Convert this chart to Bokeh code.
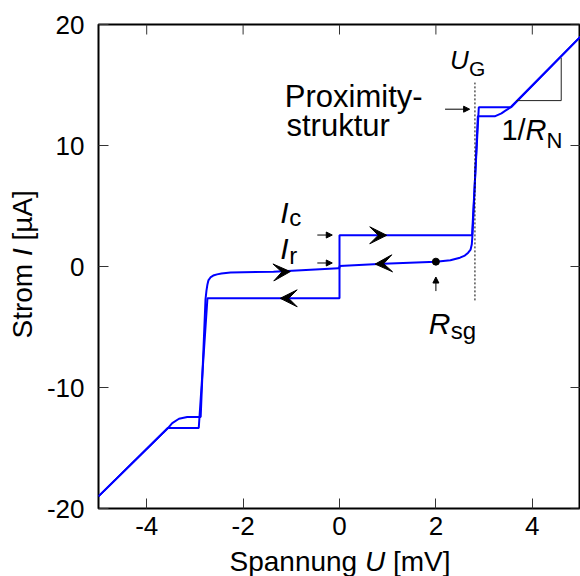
import math
from bokeh.plotting import figure
from bokeh.layouts import row, column
from bokeh.models import (FixedTicker, Label, Arrow, VeeHead, NormalHead, Range1d)
from bokeh.embed import file_html
from bokeh.resources import INLINE

# ---------------- data ----------------
x_ticks = [-4, -2, 0, 2, 4]
x_tick_labels = ["-4", "-2", "0", "2", "4"]
y_ticks = [-20, -10, 0, 10, 20]
y_tick_labels = ["-20", "-10", "0", "10", "20"]

# forward sweep (current increasing): U [mV], I [uA]
U_fwd = [-5.0, -3.56, -3.47, -3.33, -3.16, -2.88, -2.78, -2.76, -2.74, -2.72,
         -2.67, -2.62, -2.54, -2.45, -2.26, -1.37, -0.02, 0.0, 0.0, 2.75,
         2.89, 3.56, 5.0]
I_fwd = [-19.0, -13.35, -12.94, -12.58, -12.44, -12.44, -2.72, -2.0, -1.48, -1.15,
         -0.87, -0.75, -0.65, -0.58, -0.5, -0.43, -0.15, -0.12, 2.58, 2.58,
         13.16, 13.16, 19.0]

# return sweep (current decreasing)
U_ret = [5.0, 3.56, 3.53, 3.45, 3.36, 3.22, 2.87, 2.76, 2.745, 2.72, 2.67,
         2.6, 2.5, 2.3, 2.0, 0.91, 0.0, 0.0, -2.74, -2.92, -3.56, -5.0]
I_ret = [19.0, 13.2, 13.1, 12.9, 12.66, 12.41, 12.41, 2.67, 1.84, 1.4, 1.14,
         0.9, 0.73, 0.52, 0.40, 0.23, 0.04, -2.63, -2.63, -13.35, -13.35, -19.0]

# direction arrowheads on the trace
arrow_U = [0.98, 0.74, -1.23, -1.02]
arrow_I = [2.58, 0.20, -2.63, -0.42]
arrow_dir = [1, -1, -1, 1]
arrow_slope = [0.0, 0.18, 0.0, 0.2]

# gap voltage marker
U_G = 2.81
U_G_span = [-2.8, 15.2]

# subgap resistance point
Rsg_U = [2.0]
Rsg_I = [0.40]

# slope triangle (1/R_N)
tri_U = [3.67, 4.60, 4.60]
tri_I = [13.71, 13.71, 17.25]

# small pointer arrows
ptr_x0 = [2.19, -0.46, -0.46, 2.0]
ptr_y0 = [13.0, 2.6, 0.29, -2.03]
ptr_x1 = [2.70, -0.15, -0.15, 2.0]
ptr_y1 = [13.0, 2.6, 0.29, -0.87]

FONT = "Liberation Sans"
X_LABEL = ["Spannung", "U", "[mV]"]
Y_LABEL = ["Strom", "I", "[µA]"]
BASE_K = 0.36  # baseline correction (fraction of font size)

# ---------------- main figure ----------------
p = figure(width=540, height=544, x_range=Range1d(-5, 5), y_range=Range1d(-20, 20),
           output_backend="svg", toolbar_location=None,
           min_border_left=58, min_border_right=0, min_border_top=24,
           min_border_bottom=36)
p.outline_line_color = "black"
p.outline_line_width = 2
p.grid.visible = False
p.background_fill_color = "white"
p.border_fill_color = "white"


def style_axis(ax, ticks, labels, standoff):
    ax.ticker = FixedTicker(ticks=ticks)
    ax.major_label_overrides = {t: l for t, l in zip(ticks, labels)}
    ax.axis_line_color = None
    ax.major_tick_in = 10
    ax.major_tick_out = 0
    ax.major_tick_line_color = "#333333"
    ax.major_tick_line_width = 1
    ax.minor_tick_line_color = None
    ax.major_label_standoff = standoff
    ax.major_label_text_font = FONT
    ax.major_label_text_color = "black"
    ax.major_label_text_font_size = "26px"


style_axis(p.xaxis[0], x_ticks, x_tick_labels, 8)
style_axis(p.yaxis[0], y_ticks, y_tick_labels, 14)

# mirror ticks on top and right frame edges
p.ray(x=x_ticks, y=[p.y_range.end] * len(x_ticks), length=10, length_units="screen",
      angle=-math.pi / 2, line_color="#333333", line_width=1)
p.ray(x=[p.x_range.end] * len(y_ticks), y=y_ticks, length=10, length_units="screen",
      angle=math.pi, line_color="#333333", line_width=1)

# ---------------- curves ----------------
p.line(U_fwd, I_fwd, line_color="#0000ff", line_width=2)
p.line(U_ret, I_ret, line_color="#0000ff", line_width=2)

# gap voltage dotted line
p.line([U_G, U_G], U_G_span, line_color="black", line_width=1, line_dash="2 2")

# slope triangle
p.line(tri_U, tri_I, line_color="#222222", line_width=1)

# R_sg dot
p.scatter(Rsg_U, Rsg_I, size=7, color="black")

# direction arrowheads
for u, i, d, s in zip(arrow_U, arrow_I, arrow_dir, arrow_slope):
    p.add_layout(Arrow(end=VeeHead(size=17, fill_color="black", line_color="black",
                                   line_width=1),
                       x_start=u - d * 0.3, y_start=i - d * 0.3 * s,
                       x_end=u, y_end=i, line_alpha=0, line_width=0))

# pointer arrows
for x0, y0, x1, y1 in zip(ptr_x0, ptr_y0, ptr_x1, ptr_y1):
    p.add_layout(Arrow(end=NormalHead(size=6, fill_color="black", line_color="black",
                                      line_width=1),
                       x_start=x0, y_start=y0, x_end=x1, y_end=y1,
                       line_color="black", line_width=1))


def lab(fig, x, y, text, size, style="normal", dx=0.0, dy=0.0, angle=0.0):
    corr = BASE_K * size
    if angle == 0.0:
        dy = dy + corr
    else:
        dx = dx - corr
    fig.add_layout(Label(x=x, y=y, text=text, x_offset=dx, y_offset=dy,
                         text_font=FONT, text_font_size=f"{size}px",
                         text_font_style=style, text_color="black",
                         text_align="left", text_baseline="alphabetic",
                         angle=angle))


# annotations
lab(p, -1.135, 13.09, "Proximity-", 31)
lab(p, -1.10, 10.69, "struktur", 31)

lab(p, 2.29, 16.28, "U", 26, "italic")
lab(p, 2.29, 16.28, "G", 21, dx=19, dy=-7)

lab(p, 3.36, 10.40, "1/", 29)
lab(p, 3.36, 10.40, "R", 29, "italic", dx=24)
lab(p, 3.36, 10.40, "N", 22, dx=45, dy=-8)

lab(p, -1.23, 3.60, "I", 30, "italic")
lab(p, -1.23, 3.60, "c", 24, dx=9, dy=-3)

lab(p, -1.23, 0.62, "I", 30, "italic")
lab(p, -1.23, 0.62, "r", 24, dx=9, dy=-5)

lab(p, 1.854, -5.59, "R", 30, "italic")
lab(p, 1.854, -5.59, "sg", 24, dx=22, dy=-5)


# ---------------- axis label strips ----------------
def strip(w, h, xr, yr):
    f = figure(width=w, height=h, x_range=xr, y_range=yr,
               output_backend="svg", toolbar_location=None,
               x_axis_type=None, y_axis_type=None, min_border=0)
    f.min_border_left = 0
    f.min_border_right = 0
    f.min_border_top = 0
    f.min_border_bottom = 0
    f.outline_line_color = None
    f.background_fill_color = "white"
    f.border_fill_color = "white"
    return f


ylab = strip(40, 576, Range1d(0, 40), Range1d(0, 576))
lab(ylab, 32, 238, Y_LABEL[0], 28, angle=math.pi / 2)
lab(ylab, 32, 238, Y_LABEL[1], 28, "italic", dy=82.5, angle=math.pi / 2)
lab(ylab, 32, 238, Y_LABEL[2], 28, dy=98.0, angle=math.pi / 2)

# x-label strip shares the voltage range, so its frame lines up with the plot
xlab = strip(540, 32, Range1d(-5, 5), Range1d(0, 32))
lab(xlab, -5, 5, X_LABEL[0], 28, dx=131)
lab(xlab, -5, 5, X_LABEL[1], 28, "italic", dx=266.5)
lab(xlab, -5, 5, X_LABEL[2], 28, dx=294.5)

layout = row(ylab, column(p, xlab))

open("out.html", "w").write(file_html(layout, INLINE))
